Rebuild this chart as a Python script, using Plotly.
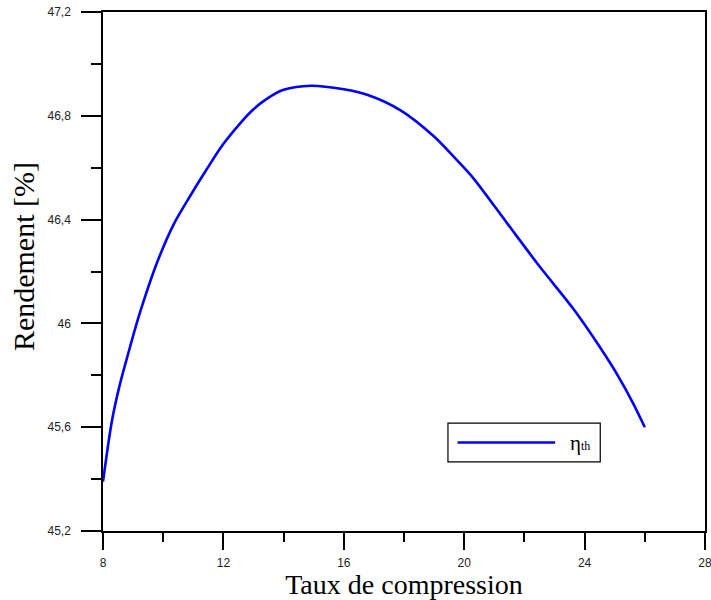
import plotly.graph_objects as go

# Data
taux = [8, 8.29, 8.56, 8.84, 9.17, 9.36, 9.78, 10.34, 10.89, 11.45, 11.99,
        12.55, 13.0, 13.44, 14.0, 14.9, 16.0, 16.8, 17.9, 19.0, 19.75, 20.3,
        21.4, 22.5, 23.6, 24.5, 25.1, 25.6, 26.0]
rendement = [45.39, 45.62, 45.765, 45.885, 46.02, 46.09, 46.23, 46.38, 46.49,
             46.595, 46.69, 46.77, 46.825, 46.865, 46.9, 46.916, 46.902, 46.88,
             46.82, 46.72, 46.63, 46.56, 46.39, 46.22, 46.06, 45.91, 45.80,
             45.695, 45.60]

x_ticks = [8, 12, 16, 20, 24, 28]
x_labels = ["8", "12", "16", "20", "24", "28"]
x_minor = [10, 14, 18, 22, 26]
y_ticks = [45.2, 45.6, 46.0, 46.4, 46.8, 47.2]
y_labels = ["45,2", "45,6", "46", "46,4", "46,8", "47,2"]
y_minor = [45.4, 45.8, 46.2, 46.6, 47.0]

fig = go.Figure()
fig.add_trace(go.Scatter(x=taux, y=rendement, mode="lines",
                         line=dict(color="#0000FF", width=2.6, shape="spline", smoothing=0.8),
                         showlegend=False, name="ηth"))

tickfont = dict(family="Liberation Sans, Arial, sans-serif", size=12, color="#222")
serif = "Liberation Serif, Times New Roman, serif"

fig.update_layout(
    width=711, height=600,
    margin=dict(l=103, r=6, t=12, b=69, autoexpand=False),
    paper_bgcolor="white", plot_bgcolor="white",
    xaxis=dict(range=[8, 28], tickmode="array", tickvals=x_ticks, ticktext=x_labels,
               automargin=False, ticklabeloverflow="allow",
               ticks="outside", ticklen=17, tickwidth=1.5, tickcolor="black",
               showline=True, linecolor="black", linewidth=1.5, mirror=True,
               showgrid=False, zeroline=False, tickfont=tickfont,
               ticklabelstandoff=3,
               minor=dict(tickmode="array", tickvals=x_minor, ticks="outside",
                          ticklen=9, tickwidth=1.5, tickcolor="black", showgrid=False),
               title=dict(text="Taux de compression", standoff=8,
                          font=dict(family=serif, size=28, color="black"))),
    yaxis=dict(range=[45.2, 47.2], tickmode="array", tickvals=y_ticks, ticktext=y_labels,
               automargin=False, ticklabeloverflow="allow",
               ticks="outside", ticklen=20, tickwidth=1.5, tickcolor="black",
               showline=True, linecolor="black", linewidth=1.5, mirror=True,
               showgrid=False, zeroline=False, tickfont=tickfont,
               ticklabelstandoff=8,
               minor=dict(tickmode="array", tickvals=y_minor, ticks="outside",
                          ticklen=10, tickwidth=1.5, tickcolor="black", showgrid=False)),
    shapes=[
        dict(type="rect", xref="paper", yref="paper", x0=0.573, x1=0.826,
             y0=0.133, y1=0.208, line=dict(color="black", width=1.2),
             fillcolor="white", layer="above"),
        dict(type="line", xref="paper", yref="paper", x0=0.589, x1=0.751,
             y0=0.1705, y1=0.1705, line=dict(color="#0000FF", width=2.6)),
    ],
    annotations=[
        dict(text="Rendement [%]", xref="paper", yref="paper", x=-0.131, y=0.528,
             textangle=-90, xanchor="center", yanchor="middle", showarrow=False,
             font=dict(family=serif, size=30, color="black")),
        dict(text="η<span style='font-size:12px'>th</span>", xref="paper", yref="paper",
             x=0.772, y=0.1705,
             xanchor="left", yanchor="middle", showarrow=False,
             font=dict(family=serif, size=21, color="black")),
    ],
)

fig.write_html("out.html")
